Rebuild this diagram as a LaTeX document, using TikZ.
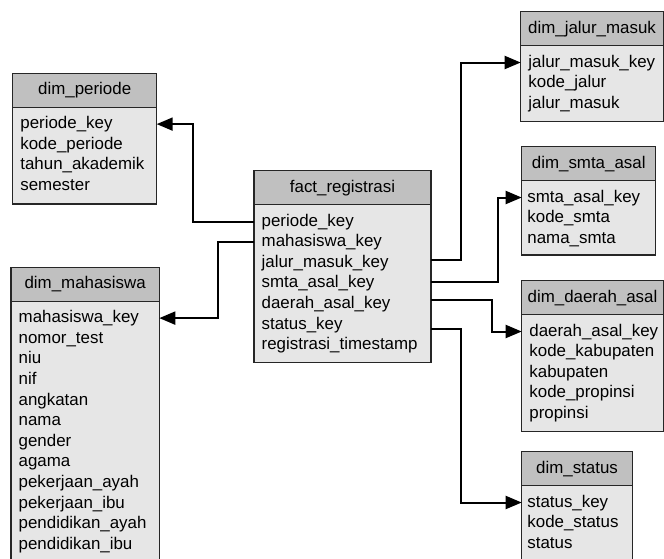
\documentclass[tikz,border=0pt]{standalone}
\usepackage{fontspec}
\setmainfont{Liberation Sans}
\usetikzlibrary{positioning, arrows.meta, calc}
\definecolor{tblhead}{RGB}{192,192,192}
\definecolor{tblbody}{RGB}{230,230,230}
\tikzset{
    tblhead/.style={rectangle, draw=black!85, fill=tblhead, line width=1.2pt, minimum height=34pt, inner sep=0pt, outer sep=0pt, anchor=north west, font=\fontsize{16.9}{21}\selectfont},
    tblbody/.style={rectangle, draw=black!85, fill=tblbody, line width=1.2pt, inner sep=0pt, outer sep=0pt},
    rowtxt/.style={anchor=west, inner sep=0pt, text height=13pt, text depth=4pt, font=\fontsize{16.9}{21}\selectfont},
    fkarr/.style={-{Triangle[length=16pt, width=13pt]}, line width=2pt, color=black}
}

\begin{document}
\begin{tikzpicture}[x=1pt, y=-1pt]
    \clip (0,0) rectangle (664,558);

    % dim_periode
    \node[tblhead, minimum width=144pt] (per) at (12.7,73.3) {dim\_periode};
    \node[tblbody, minimum width=144pt, minimum height=96.7pt, below=0pt of per] (perb) {};
    \foreach \t [count=\i] in {periode\_key, kode\_periode, tahun\_akademik, semester}
        \node[rowtxt] (per-\i) at ($(perb.north west)+(7.5,{6.5+(\i-0.5)*20.6})$) {\t};

    % dim_mahasiswa
    \node[tblhead, minimum width=148.3pt] (mhs) at (11,267.3) {dim\_mahasiswa};
    \node[tblbody, minimum width=148.3pt, minimum height=262pt, below=0pt of mhs] (mhsb) {};
    \foreach \t [count=\i] in {mahasiswa\_key, nomor\_test, niu, nif, angkatan, nama, gender, agama,
        pekerjaan\_ayah, pekerjaan\_ibu, pendidikan\_ayah, pendidikan\_ibu}
        \node[rowtxt] (mhs-\i) at ($(mhsb.north west)+(7.5,{6.5+(\i-0.5)*20.6})$) {\t};

    % fact_registrasi
    \node[tblhead, minimum width=177pt] (fact) at (254,170.7) {fact\_registrasi};
    \node[tblbody, minimum width=177pt, minimum height=157.7pt, below=0pt of fact] (factb) {};
    \foreach \t [count=\i] in {periode\_key, mahasiswa\_key, jalur\_masuk\_key, smta\_asal\_key,
        daerah\_asal\_key, status\_key, registrasi\_timestamp}
        \node[rowtxt] (fr-\i) at ($(factb.north west)+(7.5,{6.5+(\i-0.5)*20.6})$) {\t};

    % dim_jalur_masuk
    \node[tblhead, minimum width=142.6pt] (jal) at (520.7,11.7) {dim\_jalur\_masuk};
    \node[tblbody, minimum width=142.6pt, minimum height=75.7pt, below=0pt of jal] (jalb) {};
    \foreach \t [count=\i] in {jalur\_masuk\_key, kode\_jalur, jalur\_masuk}
        \node[rowtxt] (jal-\i) at ($(jalb.north west)+(7.5,{6.5+(\i-0.5)*20.6})$) {\t};

    % dim_smta_asal
    \node[tblhead, minimum width=134pt] (smt) at (521.7,146.7) {dim\_smta\_asal};
    \node[tblbody, minimum width=134pt, minimum height=74.3pt, below=0pt of smt] (smtb) {};
    \foreach \t [count=\i] in {smta\_asal\_key, kode\_smta, nama\_smta}
        \node[rowtxt] (smt-\i) at ($(smtb.north west)+(5.5,{6.5+(\i-0.5)*20.6})$) {\t};

    % dim_daerah_asal
    \node[tblhead, minimum width=141.6pt] (dae) at (521.7,280.7) {dim\_daerah\_asal};
    \node[tblbody, minimum width=141.6pt, minimum height=117pt, below=0pt of dae] (daeb) {};
    \foreach \t [count=\i] in {daerah\_asal\_key, kode\_kabupaten, kabupaten, kode\_propinsi, propinsi}
        \node[rowtxt] (dae-\i) at ($(daeb.north west)+(7.5,{6.5+(\i-0.5)*20.6})$) {\t};

    % dim_status
    \node[tblhead, minimum width=110.6pt] (sta) at (521.7,451.7) {dim\_status};
    \node[tblbody, minimum width=110.6pt, minimum height=80pt, below=0pt of sta] (stab) {};
    \foreach \t [count=\i] in {status\_key, kode\_status, status}
        \node[rowtxt] (sta-\i) at ($(stab.north west)+(5.5,{6.5+(\i-0.5)*20.6})$) {\t};

    % Relations
    \draw[fkarr] (factb.west |- fr-1) -- ++(-61,0) |- (perb.east |- per-1);
    \draw[fkarr] (factb.west |- fr-2) -- ++(-35.7,0) |- (mhsb.east |- mhs-1);
    \draw[fkarr] ($(factb.east |- fr-3)+(0,-2.5)$) -- ++(29.7,0) |- (jalb.west |- jal-1);
    \draw[fkarr] ($(factb.east |- fr-4)+(0,-1)$) -- ++(66.5,0) |- (smtb.west |- smt-1);
    \draw[fkarr] ($(factb.east |- fr-5)+(0,-4)$) -- ++(60.7,0) |- (daeb.west |- dae-1);
    \draw[fkarr] ($(factb.east |- fr-6)+(0,4.5)$) -- ++(29.7,0) |- (stab.west |- sta-1);
\end{tikzpicture}
\end{document}
